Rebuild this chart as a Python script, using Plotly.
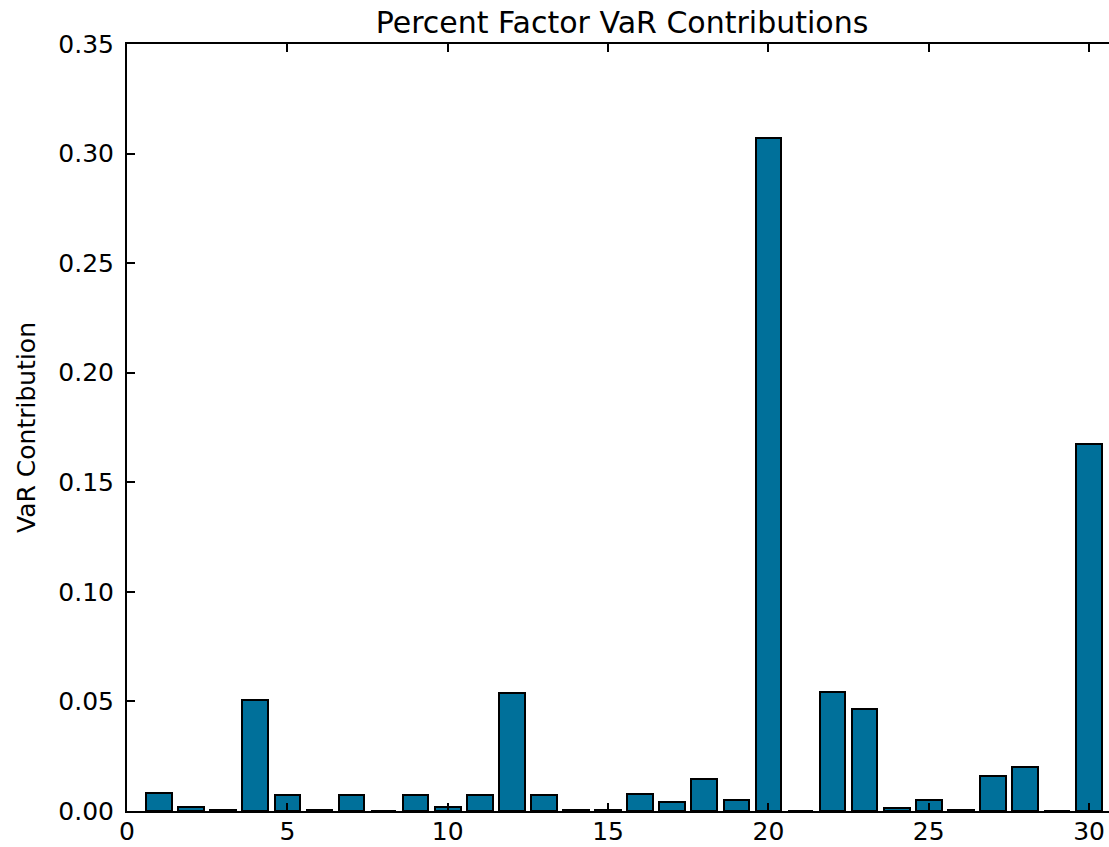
import plotly.graph_objects as go

# Factor index and its share of total VaR
factors = list(range(1, 31))
var_contrib = [
    0.0084, 0.0017, 0.0004, 0.0507, 0.0071, 0.0005, 0.0071, 0.0000, 0.0071, 0.0017,
    0.0071, 0.0538, 0.0071, 0.0004, 0.0004, 0.0079, 0.0040, 0.0148, 0.0049, 0.3070,
    0.0000, 0.0543, 0.0465, 0.0012, 0.0049, 0.0005, 0.0158, 0.0200, 0.0000, 0.1673,
]

x_ticks = [0, 5, 10, 15, 20, 25, 30]
y_ticks = [0.00, 0.05, 0.10, 0.15, 0.20, 0.25, 0.30, 0.35]

FONT = "DejaVu Sans"
BAR_COLOR = "#00709a"

fig = go.Figure()
fig.add_trace(go.Bar(
    x=factors,
    y=var_contrib,
    width=0.8,
    marker=dict(color=BAR_COLOR, line=dict(color="black", width=2)),
    showlegend=False,
))

axis_common = dict(
    ticks="inside",
    ticklen=8,
    tickwidth=1.5,
    tickcolor="black",
    showline=True,
    linecolor="black",
    linewidth=2,
    showgrid=False,
    zeroline=False,
    automargin=False,
    tickfont=dict(family=FONT, size=25, color="black"),
)

fig.update_layout(
    width=1109,
    height=847,
    margin=dict(l=127, r=0, t=44, b=36),
    paper_bgcolor="white",
    plot_bgcolor="white",
    font=dict(family=FONT, color="black"),
    bargap=0,
    title=dict(
        text="Percent Factor VaR Contributions",
        font=dict(family=FONT, size=30, color="black"),
        x=622 / 1109,
        xanchor="center",
        xref="container",
        y=1 - 22 / 847,
        yanchor="middle",
        yref="container",
    ),
    xaxis=dict(
        range=[0, 30.62],
        tickvals=x_ticks,
        ticktext=[str(v) for v in x_ticks],
        mirror="ticks",
        ticklabelstandoff=-3,
        **axis_common,
    ),
    yaxis=dict(
        range=[0, 0.35],
        tickvals=y_ticks,
        ticktext=[f"{v:.2f}" for v in y_ticks],
        mirror=False,
        ticklabelstandoff=6,
        title=dict(text="VaR Contribution", font=dict(family=FONT, size=25, color="black"), standoff=16),
        **axis_common,
    ),
    yaxis2=dict(
        overlaying="y",
        side="right",
        anchor="x",
        range=[0, 0.35],
        tickvals=y_ticks,
        ticks="inside",
        ticklen=8,
        tickwidth=1.5,
        tickcolor="black",
        showticklabels=False,
        showline=False,
        showgrid=False,
        zeroline=False,
    ),
)

fig.write_html("out.html")
